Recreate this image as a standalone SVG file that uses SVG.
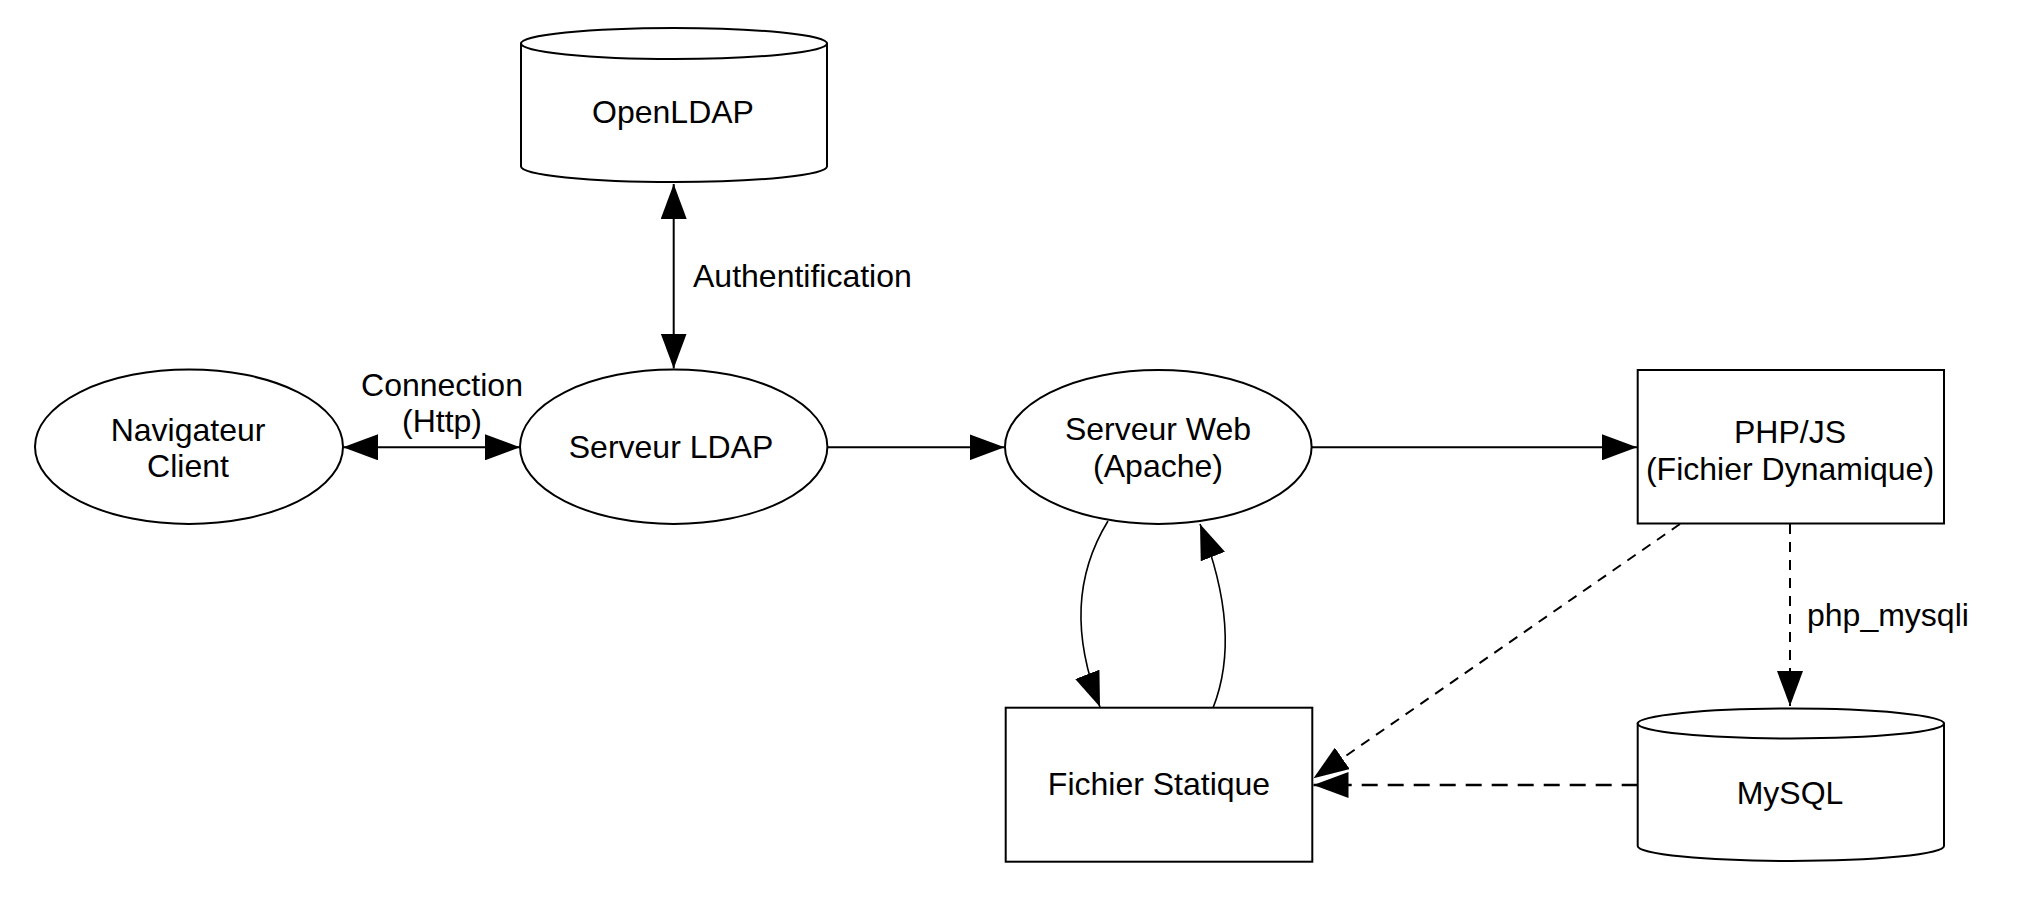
<svg xmlns="http://www.w3.org/2000/svg" width="2022" height="908" viewBox="0 0 2022 908">
  <style>
    .shape { fill: #ffffff; stroke: #000000; stroke-width: 2; }
    .lbl { font-family: "Liberation Sans", Arial, Helvetica, sans-serif; font-size: 32px; fill: #000000; }
    .mid { text-anchor: middle; }
    .edge { fill: none; stroke: #000000; stroke-width: 2; }
    .curve { fill: none; stroke: #000000; stroke-width: 1.6; }
    .dash { stroke-dasharray: 10 8; }
    .dash2 { stroke-dasharray: 16 10; stroke-width: 2.4; }
  </style>
  <defs>
    <marker id="arrow" markerUnits="userSpaceOnUse" markerWidth="36" markerHeight="26" refX="35" refY="13" orient="auto-start-reverse" viewBox="0 0 36 26">
      <path d="M0,0 L35,13 L0,26 Z" fill="#000000" stroke="none"/>
    </marker>
  </defs>
  <rect x="0" y="0" width="2022" height="908" fill="#ffffff"/>

  <g id="connectors">
    <line class="edge" x1="343" y1="447.3" x2="520" y2="447.3" marker-start="url(#arrow)" marker-end="url(#arrow)"/>
    <line class="edge" x1="673.7" y1="184" x2="673.7" y2="368.5" marker-start="url(#arrow)" marker-end="url(#arrow)"/>
    <line class="edge" x1="827.5" y1="447.3" x2="1004.5" y2="447.3" marker-end="url(#arrow)"/>
    <line class="edge" x1="1312" y1="447.3" x2="1637" y2="447.3" marker-end="url(#arrow)"/>
    <path class="curve" d="M1108,521 C1075,575 1072,635 1100,707" marker-end="url(#arrow)"/>
    <path class="curve" d="M1213,708 C1232,660 1230,600 1200,524" marker-end="url(#arrow)"/>
    <line class="edge dash" x1="1680" y1="524" x2="1313.5" y2="778.3" marker-end="url(#arrow)"/>
    <line class="edge dash2" x1="1637.7" y1="785" x2="1313.5" y2="785" marker-end="url(#arrow)"/>
    <line class="edge dash" x1="1790" y1="524" x2="1790" y2="706" marker-end="url(#arrow)"/>
    <text class="lbl mid" x="442" y="396">Connection</text>
    <text class="lbl mid" x="442" y="432">(Http)</text>
    <text class="lbl" x="693" y="287">Authentification</text>
    <text class="lbl" x="1807" y="626">php_mysqli</text>
  </g>

  <g id="openldap">
    <path class="shape" d="M521,43.5 L521,166.5 A153,15.5 0 0 0 827,166.5 L827,43.5 Z"/>
    <ellipse class="shape" cx="674" cy="43.5" rx="153" ry="15.5"/>
    <text class="lbl mid" x="673" y="123">OpenLDAP</text>
  </g>

  <g id="navigateur">
    <ellipse class="shape" cx="189" cy="446.7" rx="154" ry="77.3"/>
    <text class="lbl mid" x="188" y="441">Navigateur</text>
    <text class="lbl mid" x="188" y="477">Client</text>
  </g>

  <g id="serveur-ldap">
    <ellipse class="shape" cx="673.7" cy="446.7" rx="153.7" ry="77.3"/>
    <text class="lbl mid" x="671" y="458">Serveur LDAP</text>
  </g>

  <g id="serveur-web">
    <ellipse class="shape" cx="1158.3" cy="447" rx="153.3" ry="77"/>
    <text class="lbl mid" x="1158" y="440">Serveur Web</text>
    <text class="lbl mid" x="1158" y="477">(Apache)</text>
  </g>

  <g id="php-js">
    <rect class="shape" x="1637.7" y="370" width="306.3" height="153.5"/>
    <text class="lbl mid" x="1790" y="443">PHP/JS</text>
    <text class="lbl mid" x="1790" y="480">(Fichier Dynamique)</text>
  </g>

  <g id="fichier-statique">
    <rect class="shape" x="1005.7" y="707.7" width="306.6" height="154"/>
    <text class="lbl mid" x="1159" y="795">Fichier Statique</text>
  </g>

  <g id="mysql">
    <path class="shape" d="M1637.7,723.5 L1637.7,846 A153.15,15 0 0 0 1944,846 L1944,723.5 Z"/>
    <ellipse class="shape" cx="1790.85" cy="723.5" rx="153.15" ry="15"/>
    <text class="lbl mid" x="1790" y="804">MySQL</text>
  </g>
</svg>
